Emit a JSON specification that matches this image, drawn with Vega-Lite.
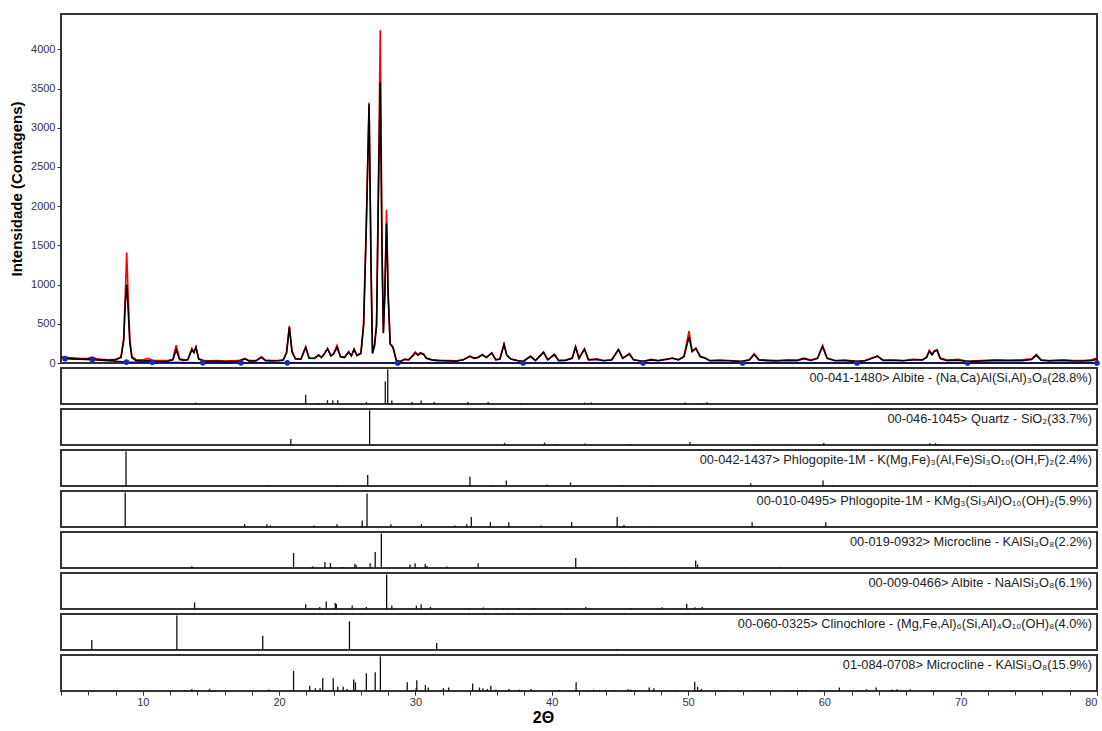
{
  "$schema": "https://vega.github.io/schema/vega-lite/v6.json",
  "background": "white",
  "padding": {"left": 8, "top": 13, "right": 5, "bottom": 0},
  "spacing": 5,
  "bounds": "flush",
  "config": {
    "font": "Liberation Sans",
    "view": {"stroke": "#333333", "strokeWidth": 2},
    "axis": {"labelOverlap": false},
    "rule": {"color": "#111111", "strokeWidth": 1.3},
    "text": {"align": "right", "baseline": "top", "dx": -5, "dy": 4, "fontSize": 12.8, "color": "#222222"}
  },
  "datasets": {
    "pattern": [
      {"t":4.0,"obs":80,"calc":70},{"t":4.5,"obs":68,"calc":62},{"t":5.0,"obs":62,"calc":55},{"t":5.5,"obs":56,"calc":50},{"t":6.0,"obs":60,"calc":50},{"t":6.3,"obs":75,"calc":70},{"t":6.6,"obs":52,"calc":45},{"t":7.0,"obs":48,"calc":40},{"t":7.5,"obs":42,"calc":35},{"t":8.0,"obs":48,"calc":40},{"t":8.4,"obs":75,"calc":70},{"t":8.6,"obs":320,"calc":280},{"t":8.72,"obs":900,"calc":780},{"t":8.82,"obs":1410,"calc":1000},{"t":8.92,"obs":900,"calc":700},{"t":9.05,"obs":300,"calc":260},{"t":9.2,"obs":80,"calc":70},{"t":9.5,"obs":45,"calc":30},{"t":10.0,"obs":40,"calc":25},{"t":10.4,"obs":58,"calc":30},{"t":10.7,"obs":35,"calc":22},{"t":11.2,"obs":30,"calc":20},{"t":11.8,"obs":32,"calc":22},{"t":12.2,"obs":45,"calc":40},{"t":12.45,"obs":226,"calc":166},{"t":12.7,"obs":55,"calc":45},{"t":13.0,"obs":40,"calc":35},{"t":13.3,"obs":42,"calc":40},{"t":13.6,"obs":185,"calc":170},{"t":13.75,"obs":140,"calc":130},{"t":13.9,"obs":205,"calc":200},{"t":14.1,"obs":55,"calc":50},{"t":14.5,"obs":30,"calc":25},{"t":15.0,"obs":28,"calc":22},{"t":15.5,"obs":32,"calc":22},{"t":16.0,"obs":25,"calc":20},{"t":16.5,"obs":28,"calc":20},{"t":17.0,"obs":30,"calc":22},{"t":17.5,"obs":58,"calc":50},{"t":17.8,"obs":30,"calc":25},{"t":18.3,"obs":30,"calc":25},{"t":18.7,"obs":80,"calc":72},{"t":19.0,"obs":38,"calc":30},{"t":19.5,"obs":32,"calc":25},{"t":20.0,"obs":35,"calc":28},{"t":20.3,"obs":42,"calc":35},{"t":20.55,"obs":140,"calc":130},{"t":20.75,"obs":473,"calc":455},{"t":20.95,"obs":150,"calc":140},{"t":21.2,"obs":55,"calc":50},{"t":21.6,"obs":52,"calc":48},{"t":21.95,"obs":205,"calc":200},{"t":22.2,"obs":65,"calc":60},{"t":22.6,"obs":62,"calc":58},{"t":22.9,"obs":105,"calc":100},{"t":23.1,"obs":72,"calc":70},{"t":23.3,"obs":112,"calc":110},{"t":23.55,"obs":185,"calc":183},{"t":23.8,"obs":92,"calc":90},{"t":24.0,"obs":120,"calc":115},{"t":24.25,"obs":226,"calc":200},{"t":24.5,"obs":82,"calc":80},{"t":24.8,"obs":75,"calc":70},{"t":25.1,"obs":145,"calc":140},{"t":25.3,"obs":92,"calc":90},{"t":25.5,"obs":175,"calc":175},{"t":25.7,"obs":100,"calc":95},{"t":26.0,"obs":125,"calc":120},{"t":26.2,"obs":500,"calc":480},{"t":26.4,"obs":1800,"calc":1750},{"t":26.6,"obs":3320,"calc":3300},{"t":26.75,"obs":1200,"calc":1150},{"t":26.85,"obs":130,"calc":120},{"t":27.0,"obs":230,"calc":220},{"t":27.15,"obs":500,"calc":480},{"t":27.3,"obs":2500,"calc":2300},{"t":27.42,"obs":4242,"calc":3580},{"t":27.55,"obs":1500,"calc":1400},{"t":27.65,"obs":400,"calc":380},{"t":27.75,"obs":900,"calc":850},{"t":27.88,"obs":1953,"calc":1780},{"t":28.0,"obs":900,"calc":850},{"t":28.15,"obs":250,"calc":240},{"t":28.35,"obs":205,"calc":200},{"t":28.6,"obs":35,"calc":30},{"t":28.9,"obs":22,"calc":20},{"t":29.2,"obs":50,"calc":45},{"t":29.5,"obs":42,"calc":40},{"t":29.8,"obs":95,"calc":90},{"t":30.0,"obs":140,"calc":130},{"t":30.2,"obs":100,"calc":100},{"t":30.35,"obs":130,"calc":125},{"t":30.6,"obs":115,"calc":110},{"t":30.8,"obs":62,"calc":60},{"t":31.2,"obs":42,"calc":40},{"t":31.6,"obs":38,"calc":30},{"t":32.0,"obs":32,"calc":28},{"t":32.5,"obs":30,"calc":25},{"t":33.0,"obs":28,"calc":22},{"t":33.5,"obs":42,"calc":40},{"t":34.0,"obs":88,"calc":85},{"t":34.3,"obs":62,"calc":60},{"t":34.6,"obs":72,"calc":70},{"t":34.9,"obs":107,"calc":105},{"t":35.2,"obs":72,"calc":70},{"t":35.6,"obs":132,"calc":125},{"t":35.9,"obs":42,"calc":40},{"t":36.2,"obs":52,"calc":50},{"t":36.5,"obs":239,"calc":239},{"t":36.7,"obs":100,"calc":100},{"t":37.0,"obs":52,"calc":50},{"t":37.5,"obs":32,"calc":28},{"t":37.9,"obs":22,"calc":20},{"t":38.45,"obs":85,"calc":85},{"t":38.8,"obs":32,"calc":30},{"t":39.4,"obs":140,"calc":135},{"t":39.7,"obs":42,"calc":40},{"t":40.2,"obs":111,"calc":108},{"t":40.5,"obs":32,"calc":30},{"t":41.0,"obs":38,"calc":32},{"t":41.5,"obs":62,"calc":60},{"t":41.75,"obs":213,"calc":200},{"t":42.0,"obs":62,"calc":60},{"t":42.4,"obs":183,"calc":175},{"t":42.7,"obs":42,"calc":40},{"t":43.3,"obs":52,"calc":45},{"t":43.8,"obs":32,"calc":28},{"t":44.4,"obs":42,"calc":38},{"t":44.9,"obs":175,"calc":170},{"t":45.2,"obs":62,"calc":60},{"t":45.7,"obs":119,"calc":115},{"t":46.0,"obs":42,"calc":40},{"t":46.7,"obs":22,"calc":20},{"t":47.3,"obs":48,"calc":40},{"t":47.8,"obs":32,"calc":28},{"t":48.4,"obs":52,"calc":45},{"t":48.85,"obs":64,"calc":60},{"t":49.3,"obs":42,"calc":40},{"t":49.7,"obs":85,"calc":80},{"t":50.07,"obs":405,"calc":333},{"t":50.3,"obs":150,"calc":145},{"t":50.57,"obs":192,"calc":185},{"t":50.9,"obs":82,"calc":80},{"t":51.2,"obs":71,"calc":65},{"t":51.6,"obs":32,"calc":28},{"t":52.3,"obs":38,"calc":30},{"t":53.0,"obs":32,"calc":28},{"t":53.9,"obs":22,"calc":20},{"t":54.5,"obs":42,"calc":38},{"t":54.85,"obs":119,"calc":110},{"t":55.2,"obs":42,"calc":38},{"t":55.8,"obs":38,"calc":30},{"t":56.5,"obs":32,"calc":25},{"t":57.3,"obs":42,"calc":32},{"t":58.0,"obs":38,"calc":30},{"t":58.5,"obs":64,"calc":55},{"t":59.0,"obs":38,"calc":32},{"t":59.5,"obs":62,"calc":58},{"t":59.87,"obs":226,"calc":210},{"t":60.2,"obs":62,"calc":58},{"t":60.8,"obs":32,"calc":28},{"t":61.5,"obs":38,"calc":30},{"t":62.4,"obs":22,"calc":20},{"t":63.0,"obs":32,"calc":28},{"t":63.9,"obs":92,"calc":85},{"t":64.3,"obs":38,"calc":32},{"t":65.0,"obs":42,"calc":32},{"t":65.8,"obs":32,"calc":28},{"t":66.5,"obs":48,"calc":38},{"t":67.2,"obs":42,"calc":38},{"t":67.5,"obs":75,"calc":70},{"t":67.7,"obs":162,"calc":150},{"t":67.9,"obs":112,"calc":105},{"t":68.07,"obs":155,"calc":150},{"t":68.27,"obs":170,"calc":160},{"t":68.5,"obs":62,"calc":55},{"t":69.0,"obs":38,"calc":30},{"t":69.8,"obs":48,"calc":35},{"t":70.5,"obs":22,"calc":20},{"t":71.5,"obs":32,"calc":25},{"t":72.5,"obs":42,"calc":30},{"t":73.5,"obs":38,"calc":28},{"t":74.5,"obs":42,"calc":30},{"t":75.2,"obs":52,"calc":45},{"t":75.55,"obs":111,"calc":100},{"t":75.9,"obs":42,"calc":35},{"t":76.5,"obs":32,"calc":25},{"t":77.0,"obs":38,"calc":28},{"t":77.6,"obs":42,"calc":30},{"t":78.2,"obs":32,"calc":25},{"t":79.0,"obs":32,"calc":25},{"t":79.6,"obs":42,"calc":30},{"t":80.0,"obs":64,"calc":50}
    ],
    "bg": [
      {"t":4.3,"b":55},{"t":6.3,"b":40},{"t":8.8,"b":12},{"t":10.7,"b":10},{"t":14.4,"b":3},{"t":17.2,"b":2},{"t":20.6,"b":2},{"t":28.7,"b":0},{"t":37.9,"b":0},{"t":46.7,"b":0},{"t":54.0,"b":0},{"t":62.4,"b":0},{"t":70.5,"b":0},{"t":80.0,"b":0}
    ],
    "phases": [
      {"p":1,"label":"00-041-1480> Albite - (Na,Ca)Al(Si,Al)₃O₈(28.8%)"},
      {"p":2,"label":"00-046-1045> Quartz - SiO₂(33.7%)"},
      {"p":3,"label":"00-042-1437> Phlogopite-1M - K(Mg,Fe)₃(Al,Fe)Si₃O₁₀(OH,F)₂(2.4%)"},
      {"p":4,"label":"00-010-0495> Phlogopite-1M - KMg₃(Si₃Al)O₁₀(OH)₂(5.9%)"},
      {"p":5,"label":"00-019-0932> Microcline - KAlSi₃O₈(2.2%)"},
      {"p":6,"label":"00-009-0466> Albite - NaAlSi₃O₈(6.1%)"},
      {"p":7,"label":"00-060-0325> Clinochlore - (Mg,Fe,Al)₆(Si,Al)₄O₁₀(OH)₈(4.0%)"},
      {"p":8,"label":"01-084-0708> Microcline - KAlSi₃O₈(15.9%)"}
    ],
    "ticks": [
      {"t":4},{"t":6},{"t":8},{"t":10},{"t":12},{"t":14},{"t":16},{"t":18},{"t":20},{"t":22},{"t":24},{"t":26},{"t":28},{"t":30},{"t":32},{"t":34},{"t":36},{"t":38},{"t":40},{"t":42},{"t":44},{"t":46},{"t":48},{"t":50},{"t":52},{"t":54},{"t":56},{"t":58},{"t":60},{"t":62},{"t":64},{"t":66},{"t":68},{"t":70},{"t":72},{"t":74},{"t":76},{"t":78},{"t":80}
    ],
    "sticks": [
      {"p":1,"t":13.87,"i":4},{"p":1,"t":21.95,"i":27},{"p":1,"t":22.9,"i":3},{"p":1,"t":23.55,"i":11},{"p":1,"t":23.94,"i":11},{"p":1,"t":24.3,"i":11},{"p":1,"t":26.4,"i":6},{"p":1,"t":27.79,"i":65},{"p":1,"t":27.97,"i":100},{"p":1,"t":28.27,"i":10},{"p":1,"t":29.76,"i":6},{"p":1,"t":30.42,"i":10},{"p":1,"t":31.38,"i":6},{"p":1,"t":33.84,"i":6},{"p":1,"t":35.33,"i":6},{"p":1,"t":37.7,"i":3},{"p":1,"t":42.4,"i":4},{"p":1,"t":42.9,"i":4},{"p":1,"t":49.8,"i":4},{"p":1,"t":50.76,"i":3},{"p":1,"t":51.4,"i":5},{"p":1,"t":63.7,"i":2},
      {"p":2,"t":20.86,"i":17},{"p":2,"t":26.64,"i":100},{"p":2,"t":36.54,"i":6},{"p":2,"t":39.47,"i":7},{"p":2,"t":40.29,"i":3},{"p":2,"t":42.45,"i":4},{"p":2,"t":45.79,"i":3},{"p":2,"t":50.14,"i":9},{"p":2,"t":54.87,"i":2},{"p":2,"t":59.96,"i":6},{"p":2,"t":67.74,"i":5},{"p":2,"t":68.14,"i":5},{"p":2,"t":68.32,"i":3},{"p":2,"t":75.66,"i":3},
      {"p":3,"t":8.77,"i":100},{"p":3,"t":19.1,"i":3},{"p":3,"t":19.3,"i":3},{"p":3,"t":24.25,"i":3},{"p":3,"t":26.5,"i":32},{"p":3,"t":34.0,"i":27},{"p":3,"t":35.6,"i":3},{"p":3,"t":36.67,"i":16},{"p":3,"t":39.66,"i":4},{"p":3,"t":41.38,"i":10},{"p":3,"t":45.0,"i":3},{"p":3,"t":45.2,"i":3},{"p":3,"t":47.36,"i":3},{"p":3,"t":54.6,"i":8},{"p":3,"t":59.9,"i":16},{"p":3,"t":60.6,"i":3},{"p":3,"t":70.7,"i":3},
      {"p":4,"t":8.71,"i":100},{"p":4,"t":17.47,"i":8},{"p":4,"t":19.1,"i":8},{"p":4,"t":19.35,"i":4},{"p":4,"t":22.56,"i":4},{"p":4,"t":24.25,"i":8},{"p":4,"t":26.1,"i":19},{"p":4,"t":26.45,"i":97},{"p":4,"t":28.2,"i":8},{"p":4,"t":30.44,"i":8},{"p":4,"t":32.9,"i":4},{"p":4,"t":33.76,"i":8},{"p":4,"t":34.1,"i":29},{"p":4,"t":35.5,"i":14},{"p":4,"t":36.85,"i":14},{"p":4,"t":39.2,"i":4},{"p":4,"t":41.46,"i":14},{"p":4,"t":44.8,"i":29},{"p":4,"t":45.3,"i":6},{"p":4,"t":47.5,"i":3},{"p":4,"t":54.7,"i":14},{"p":4,"t":60.1,"i":14},{"p":4,"t":61.0,"i":3},
      {"p":5,"t":13.6,"i":5},{"p":5,"t":15.0,"i":2},{"p":5,"t":21.06,"i":43},{"p":5,"t":22.45,"i":5},{"p":5,"t":22.56,"i":3},{"p":5,"t":23.36,"i":17},{"p":5,"t":23.77,"i":14},{"p":5,"t":24.5,"i":3},{"p":5,"t":24.7,"i":3},{"p":5,"t":25.56,"i":12},{"p":5,"t":25.66,"i":8},{"p":5,"t":26.68,"i":14},{"p":5,"t":27.05,"i":46},{"p":5,"t":27.5,"i":100},{"p":5,"t":29.6,"i":10},{"p":5,"t":29.98,"i":14},{"p":5,"t":30.72,"i":12},{"p":5,"t":30.85,"i":6},{"p":5,"t":32.3,"i":4},{"p":5,"t":34.3,"i":3},{"p":5,"t":34.6,"i":14},{"p":5,"t":35.1,"i":3},{"p":5,"t":37.43,"i":3},{"p":5,"t":38.6,"i":2},{"p":5,"t":41.76,"i":29},{"p":5,"t":42.76,"i":3},{"p":5,"t":44.1,"i":2},{"p":5,"t":45.4,"i":2},{"p":5,"t":47.5,"i":2},{"p":5,"t":50.56,"i":22},{"p":5,"t":50.7,"i":10},{"p":5,"t":56.7,"i":3},
      {"p":6,"t":13.8,"i":19},{"p":6,"t":21.95,"i":14},{"p":6,"t":22.98,"i":6},{"p":6,"t":23.46,"i":22},{"p":6,"t":24.12,"i":17},{"p":6,"t":24.2,"i":14},{"p":6,"t":25.36,"i":10},{"p":6,"t":26.4,"i":6},{"p":6,"t":27.89,"i":100},{"p":6,"t":28.27,"i":10},{"p":6,"t":30.07,"i":10},{"p":6,"t":30.42,"i":14},{"p":6,"t":31.1,"i":6},{"p":6,"t":33.94,"i":3},{"p":6,"t":34.98,"i":4},{"p":6,"t":35.91,"i":3},{"p":6,"t":36.4,"i":3},{"p":6,"t":36.75,"i":3},{"p":6,"t":37.6,"i":3},{"p":6,"t":38.7,"i":3},{"p":6,"t":41.15,"i":3},{"p":6,"t":42.5,"i":6},{"p":6,"t":45.8,"i":3},{"p":6,"t":48.1,"i":5},{"p":6,"t":49.4,"i":3},{"p":6,"t":49.9,"i":15},{"p":6,"t":50.5,"i":5},{"p":6,"t":51.04,"i":6},
      {"p":7,"t":6.26,"i":29},{"p":7,"t":12.5,"i":100},{"p":7,"t":18.8,"i":41},{"p":7,"t":25.16,"i":83},{"p":7,"t":31.56,"i":20},{"p":7,"t":44.75,"i":3},
      {"p":8,"t":13.1,"i":3},{"p":8,"t":13.6,"i":6},{"p":8,"t":14.9,"i":6},{"p":8,"t":15.2,"i":3},{"p":8,"t":19.26,"i":4},{"p":8,"t":21.06,"i":58},{"p":8,"t":22.25,"i":15},{"p":8,"t":22.66,"i":8},{"p":8,"t":23.0,"i":8},{"p":8,"t":23.2,"i":37},{"p":8,"t":23.97,"i":37},{"p":8,"t":24.3,"i":12},{"p":8,"t":24.7,"i":12},{"p":8,"t":24.98,"i":6},{"p":8,"t":25.47,"i":33},{"p":8,"t":25.6,"i":25},{"p":8,"t":26.4,"i":51},{"p":8,"t":27.05,"i":54},{"p":8,"t":27.43,"i":100},{"p":8,"t":29.4,"i":25},{"p":8,"t":30.05,"i":8},{"p":8,"t":30.1,"i":31},{"p":8,"t":30.73,"i":17},{"p":8,"t":30.94,"i":10},{"p":8,"t":32.05,"i":8},{"p":8,"t":32.44,"i":10},{"p":8,"t":34.2,"i":22},{"p":8,"t":34.7,"i":10},{"p":8,"t":34.95,"i":8},{"p":8,"t":35.28,"i":6},{"p":8,"t":35.53,"i":15},{"p":8,"t":35.9,"i":4},{"p":8,"t":36.87,"i":6},{"p":8,"t":37.63,"i":4},{"p":8,"t":38.47,"i":6},{"p":8,"t":40.52,"i":3},{"p":8,"t":41.79,"i":25},{"p":8,"t":42.7,"i":3},{"p":8,"t":43.07,"i":4},{"p":8,"t":43.5,"i":3},{"p":8,"t":43.94,"i":3},{"p":8,"t":44.6,"i":3},{"p":8,"t":45.6,"i":5},{"p":8,"t":45.78,"i":4},{"p":8,"t":46.13,"i":3},{"p":8,"t":47.15,"i":10},{"p":8,"t":47.5,"i":8},{"p":8,"t":48.74,"i":3},{"p":8,"t":49.1,"i":3},{"p":8,"t":50.49,"i":27},{"p":8,"t":50.7,"i":12},{"p":8,"t":50.97,"i":6},{"p":8,"t":52.5,"i":3},{"p":8,"t":55.3,"i":2},{"p":8,"t":55.5,"i":2},{"p":8,"t":57.5,"i":3},{"p":8,"t":58.0,"i":3},{"p":8,"t":58.35,"i":3},{"p":8,"t":58.66,"i":3},{"p":8,"t":59.7,"i":3},{"p":8,"t":61.1,"i":10},{"p":8,"t":62.56,"i":3},{"p":8,"t":63.1,"i":5},{"p":8,"t":63.8,"i":10},{"p":8,"t":64.97,"i":4},{"p":8,"t":65.35,"i":5},{"p":8,"t":66.3,"i":5}
    ]
  },
  "vconcat": [
    {
      "width": 1036,
      "height": 349,
      "layer": [
        {
          "data": {"name": "bg"},
          "mark": {"type": "line", "color": "#0b0b66", "strokeWidth": 1.5},
          "encoding": {
            "x": {"field": "t", "type": "quantitative", "scale": {"domain": [4, 80], "nice": false, "zero": false}, "axis": null},
            "y": {"field": "b", "type": "quantitative", "scale": {"domain": [0, 4450], "nice": false},
              "axis": {"title": "Intensidade (Contagens)", "titleFontSize": 15, "titleFontWeight": "bold", "titleColor": "#000000", "titlePadding": 6, "values": [0, 500, 1000, 1500, 2000, 2500, 3000, 3500, 4000], "format": "d", "labelFontSize": 11, "labelColor": "#333344", "tickColor": "#333333", "tickSize": 4, "domain": false, "grid": false}}
          }
        },
        {
          "data": {"name": "pattern"},
          "mark": {"type": "line", "color": "#ff0000", "strokeWidth": 1.6, "clip": true},
          "encoding": {
            "x": {"field": "t", "type": "quantitative"},
            "y": {"field": "obs", "type": "quantitative", "title": "Intensidade (Contagens)"}
          }
        },
        {
          "data": {"name": "pattern"},
          "mark": {"type": "line", "color": "#000000", "strokeWidth": 1.6, "clip": true},
          "encoding": {
            "x": {"field": "t", "type": "quantitative"},
            "y": {"field": "calc", "type": "quantitative", "title": "Intensidade (Contagens)"}
          }
        },
        {
          "data": {"name": "bg"},
          "mark": {"type": "point", "filled": true, "color": "#1a2aa8", "size": 32, "opacity": 1},
          "encoding": {
            "x": {"field": "t", "type": "quantitative"},
            "y": {"field": "b", "type": "quantitative", "title": "Intensidade (Contagens)"}
          }
        }
      ]
    },
    {"width": 1036, "height": 36, "layer": [
      {"data": {"name": "sticks"}, "transform": [{"filter": "datum.p == 1"}], "mark": "rule",
       "encoding": {"x": {"field": "t", "type": "quantitative", "scale": {"domain": [4, 80], "nice": false, "zero": false}, "axis": null}, "y": {"field": "i", "type": "quantitative", "scale": {"domain": [0, 104], "nice": false}, "axis": null}, "y2": {"datum": 0}}},
      {"data": {"name": "phases"}, "transform": [{"filter": "datum.p == 1"}], "mark": "text",
       "encoding": {"x": {"datum": 80}, "y": {"datum": 104}, "text": {"field": "label"}}}
    ]},
    {"width": 1036, "height": 36, "layer": [
      {"data": {"name": "sticks"}, "transform": [{"filter": "datum.p == 2"}], "mark": "rule",
       "encoding": {"x": {"field": "t", "type": "quantitative", "scale": {"domain": [4, 80], "nice": false, "zero": false}, "axis": null}, "y": {"field": "i", "type": "quantitative", "scale": {"domain": [0, 104], "nice": false}, "axis": null}, "y2": {"datum": 0}}},
      {"data": {"name": "phases"}, "transform": [{"filter": "datum.p == 2"}], "mark": "text",
       "encoding": {"x": {"datum": 80}, "y": {"datum": 104}, "text": {"field": "label"}}}
    ]},
    {"width": 1036, "height": 36, "layer": [
      {"data": {"name": "sticks"}, "transform": [{"filter": "datum.p == 3"}], "mark": "rule",
       "encoding": {"x": {"field": "t", "type": "quantitative", "scale": {"domain": [4, 80], "nice": false, "zero": false}, "axis": null}, "y": {"field": "i", "type": "quantitative", "scale": {"domain": [0, 104], "nice": false}, "axis": null}, "y2": {"datum": 0}}},
      {"data": {"name": "phases"}, "transform": [{"filter": "datum.p == 3"}], "mark": "text",
       "encoding": {"x": {"datum": 80}, "y": {"datum": 104}, "text": {"field": "label"}}}
    ]},
    {"width": 1036, "height": 36, "layer": [
      {"data": {"name": "sticks"}, "transform": [{"filter": "datum.p == 4"}], "mark": "rule",
       "encoding": {"x": {"field": "t", "type": "quantitative", "scale": {"domain": [4, 80], "nice": false, "zero": false}, "axis": null}, "y": {"field": "i", "type": "quantitative", "scale": {"domain": [0, 104], "nice": false}, "axis": null}, "y2": {"datum": 0}}},
      {"data": {"name": "phases"}, "transform": [{"filter": "datum.p == 4"}], "mark": "text",
       "encoding": {"x": {"datum": 80}, "y": {"datum": 104}, "text": {"field": "label"}}}
    ]},
    {"width": 1036, "height": 36, "layer": [
      {"data": {"name": "sticks"}, "transform": [{"filter": "datum.p == 5"}], "mark": "rule",
       "encoding": {"x": {"field": "t", "type": "quantitative", "scale": {"domain": [4, 80], "nice": false, "zero": false}, "axis": null}, "y": {"field": "i", "type": "quantitative", "scale": {"domain": [0, 104], "nice": false}, "axis": null}, "y2": {"datum": 0}}},
      {"data": {"name": "phases"}, "transform": [{"filter": "datum.p == 5"}], "mark": "text",
       "encoding": {"x": {"datum": 80}, "y": {"datum": 104}, "text": {"field": "label"}}}
    ]},
    {"width": 1036, "height": 36, "layer": [
      {"data": {"name": "sticks"}, "transform": [{"filter": "datum.p == 6"}], "mark": "rule",
       "encoding": {"x": {"field": "t", "type": "quantitative", "scale": {"domain": [4, 80], "nice": false, "zero": false}, "axis": null}, "y": {"field": "i", "type": "quantitative", "scale": {"domain": [0, 104], "nice": false}, "axis": null}, "y2": {"datum": 0}}},
      {"data": {"name": "phases"}, "transform": [{"filter": "datum.p == 6"}], "mark": "text",
       "encoding": {"x": {"datum": 80}, "y": {"datum": 104}, "text": {"field": "label"}}}
    ]},
    {"width": 1036, "height": 36, "layer": [
      {"data": {"name": "sticks"}, "transform": [{"filter": "datum.p == 7"}], "mark": "rule",
       "encoding": {"x": {"field": "t", "type": "quantitative", "scale": {"domain": [4, 80], "nice": false, "zero": false}, "axis": null}, "y": {"field": "i", "type": "quantitative", "scale": {"domain": [0, 104], "nice": false}, "axis": null}, "y2": {"datum": 0}}},
      {"data": {"name": "phases"}, "transform": [{"filter": "datum.p == 7"}], "mark": "text",
       "encoding": {"x": {"datum": 80}, "y": {"datum": 104}, "text": {"field": "label"}}}
    ]},
    {"width": 1036, "height": 36,
     "resolve": {"axis": {"x": "independent"}},
     "layer": [
      {"data": {"name": "ticks"}, "mark": {"type": "rule", "strokeWidth": 0},
       "encoding": {"x": {"field": "t", "type": "quantitative", "scale": {"domain": [4, 80], "nice": false, "zero": false},
         "axis": {"orient": "bottom", "title": null, "labels": false, "values": [4,6,8,10,12,14,16,18,20,22,24,26,28,30,32,34,36,38,40,42,44,46,48,50,52,54,56,58,60,62,64,66,68,70,72,74,76,78,80], "tickColor": "#333333", "tickSize": 4, "domain": false, "grid": false}}}},
      {"data": {"name": "sticks"}, "transform": [{"filter": "datum.p == 8"}], "mark": "rule",
       "encoding": {"x": {"field": "t", "type": "quantitative",
         "axis": {"orient": "bottom", "title": "2Θ", "titleFontSize": 16, "titleFontWeight": "bold", "titleColor": "#000000", "titlePadding": 2, "titleX": 482, "values": [10,20,30,40,50,60,70,80], "labelOverlap": false, "labelFontSize": 11, "labelColor": "#333344", "tickColor": "#333333", "tickSize": 4, "domain": false, "grid": false, "labelPadding": 1}},
         "y": {"field": "i", "type": "quantitative", "scale": {"domain": [0, 104], "nice": false}, "axis": null}, "y2": {"datum": 0}}},
      {"data": {"name": "phases"}, "transform": [{"filter": "datum.p == 8"}], "mark": "text",
       "encoding": {"x": {"datum": 80, "axis": null}, "y": {"datum": 104}, "text": {"field": "label"}}}
    ]}
  ]
}
